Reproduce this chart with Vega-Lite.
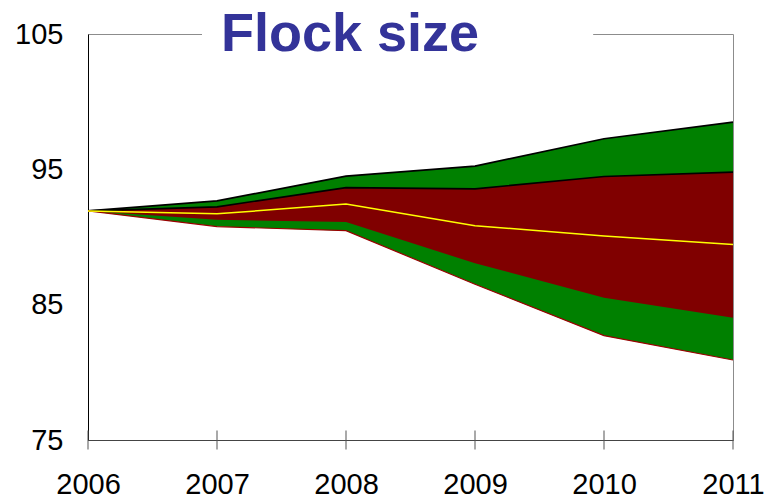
{
  "$schema": "https://vega.github.io/schema/vega-lite/v6.json",
  "width": 645,
  "height": 406,
  "autosize": "none",
  "padding": {"left": 88, "top": 34, "right": 32, "bottom": 58},
  "background": "white",
  "config": {
    "view": {"stroke": "#8c8c8c", "strokeWidth": 1},
    "font": "Liberation Sans"
  },
  "title": {
    "text": "Flock size",
    "orient": "none",
    "anchor": "start",
    "frame": "group",
    "font": "Liberation Sans",
    "fontSize": 54,
    "fontWeight": "bold",
    "color": "#333399",
    "offset": 0,
    "baseline": "alphabetic",
    "dx": 133,
    "dy": 17
  },
  "datasets": {
    "fan": [
      {"year": 2006, "lo95": 91.93, "lo50": 91.93, "median": 91.93, "hi50": 91.93, "hi95": 91.93},
      {"year": 2007, "lo95": 90.77, "lo50": 91.27, "median": 91.71, "hi50": 92.23, "hi95": 92.67},
      {"year": 2008, "lo95": 90.47, "lo50": 91.1, "median": 92.43, "hi50": 93.65, "hi95": 94.5},
      {"year": 2009, "lo95": 86.51, "lo50": 88.06, "median": 90.84, "hi50": 93.56, "hi95": 95.24},
      {"year": 2010, "lo95": 82.71, "lo50": 85.52, "median": 90.08, "hi50": 94.47, "hi95": 97.26},
      {"year": 2011, "lo95": 80.91, "lo50": 84.04, "median": 89.44, "hi50": 94.79, "hi95": 98.49}
    ],
    "yticks": [{"v": 75}, {"v": 85}, {"v": 95}, {"v": 105}]
  },
  "data": {"name": "fan"},
  "encoding": {
    "x": {
      "field": "year",
      "type": "quantitative",
      "scale": {"domain": [2006, 2011], "nice": false, "zero": false},
      "axis": {
        "title": null,
        "values": [2006, 2007, 2008, 2009, 2010, 2011],
        "format": "d",
        "ticks": false,
        "grid": false,
        "domainColor": "#444444",
        "domainWidth": 1,
        "labelFont": "Liberation Sans",
        "labelFontSize": 29,
        "labelColor": "#000000",
        "labelPadding": 30,
        "labelFlush": false,
        "labelOverlap": false
      }
    }
  },
  "layer": [
    {
      "mark": {"type": "area", "color": "#008000", "opacity": 1},
      "encoding": {
        "y": {
          "field": "lo95",
          "type": "quantitative",
          "scale": {"domain": [75, 105], "nice": false, "zero": false},
          "axis": {
            "title": null,
            "values": [75, 85, 95, 105],
            "ticks": false,
            "grid": false,
            "domainColor": "#000000",
            "domainWidth": 1,
            "labelFont": "Liberation Sans",
            "labelFontSize": 29,
            "labelColor": "#000000",
            "labelPadding": 25,
            "labelFlush": false,
            "labelOverlap": false
          }
        },
        "y2": {"field": "hi95"}
      }
    },
    {
      "mark": {"type": "area", "color": "#800000", "opacity": 1},
      "encoding": {
        "y": {"field": "lo50", "type": "quantitative"},
        "y2": {"field": "hi50"}
      }
    },
    {
      "mark": {"type": "line", "color": "#000000", "strokeWidth": 1.7},
      "encoding": {"y": {"field": "hi95", "type": "quantitative"}}
    },
    {
      "mark": {"type": "line", "color": "#000000", "strokeWidth": 1.7},
      "encoding": {"y": {"field": "hi50", "type": "quantitative"}}
    },
    {
      "mark": {"type": "line", "color": "#990000", "strokeWidth": 1.2},
      "encoding": {"y": {"field": "lo95", "type": "quantitative"}}
    },
    {
      "mark": {"type": "line", "color": "#ffff00", "strokeWidth": 1.5},
      "encoding": {"y": {"field": "median", "type": "quantitative"}}
    },
    {
      "mark": {"type": "tick", "orient": "vertical", "size": 19, "thickness": 1, "color": "#555555", "opacity": 1},
      "encoding": {"y": {"datum": 75, "type": "quantitative"}}
    },
    {
      "data": {"name": "yticks"},
      "mark": {"type": "tick", "orient": "horizontal", "size": 19, "thickness": 1, "color": "#555555", "opacity": 1},
      "encoding": {
        "x": {"datum": 2006, "type": "quantitative"},
        "y": {"field": "v", "type": "quantitative"}
      }
    },
    {
      "mark": {"type": "rect", "color": "#ffffff", "opacity": 1},
      "encoding": {
        "x": {"datum": 2006.884, "type": "quantitative"},
        "x2": {"datum": 2009.915},
        "y": {"datum": 104.6, "type": "quantitative"},
        "y2": {"datum": 105.4}
      }
    }
  ]
}
